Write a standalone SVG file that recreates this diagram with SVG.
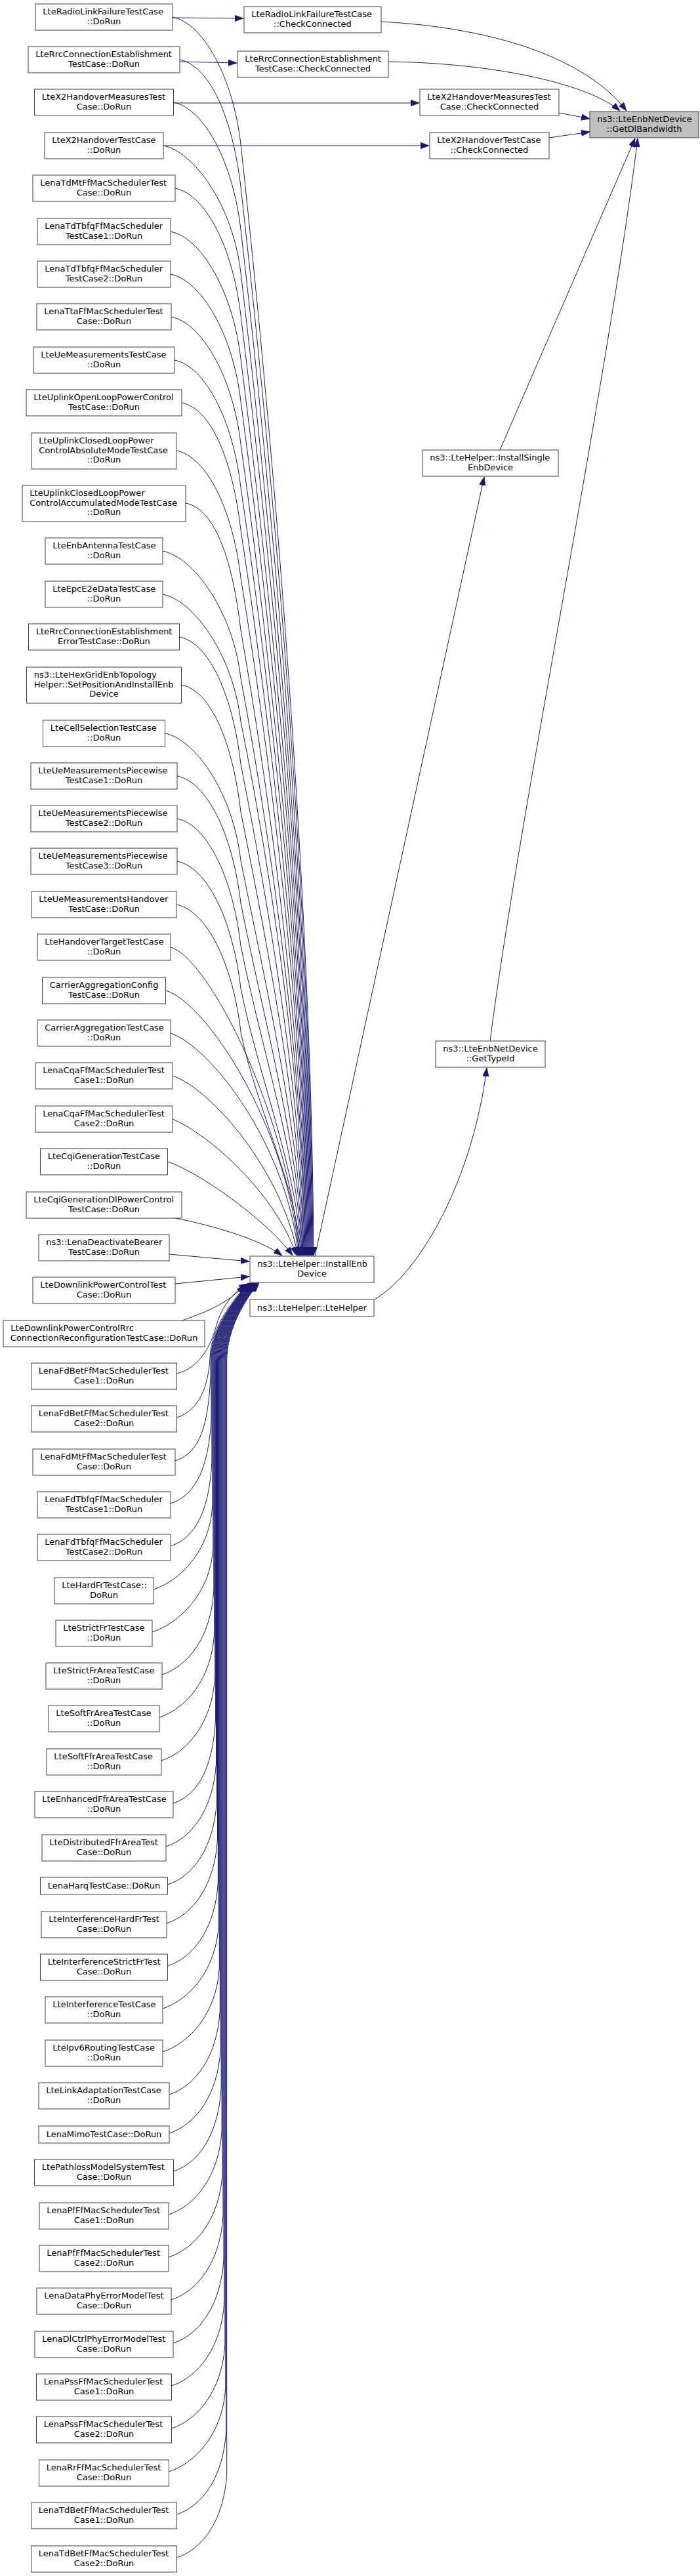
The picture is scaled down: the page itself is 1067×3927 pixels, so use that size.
<svg xmlns="http://www.w3.org/2000/svg" width="1067" height="3927" viewBox="0 0 1067 3927">
<style>
.node rect{fill:#fff;stroke:#404040;stroke-width:1}
.root rect{fill:#bfbfbf}
.node text{font-family:"DejaVu Sans","Liberation Sans",sans-serif;font-size:13px;fill:#000}
.l{text-anchor:start}
.c{text-anchor:middle}
#edges path{fill:none;stroke:#191970;stroke-width:1;marker-end:url(#ah)}
</style>
<defs>
<marker id="ah" markerUnits="userSpaceOnUse" markerWidth="14" markerHeight="11" refX="13" refY="4.7" orient="auto">
<path d="M0,0 L13,4.7 L0,9.4 z" fill="#191970" stroke="#191970" stroke-width="0.8"/>
</marker>
</defs>
<rect x="0" y="0" width="1067" height="3927" fill="#fff"/>
<g id="edges">
<path d="M263,27 L371,28"/>
<path d="M274,94 L361,96"/>
<path d="M264.5,157 L639,157"/>
<path d="M249,222 L654,222"/>
<path d="M581,33 C800,45 910,110 955,169"/>
<path d="M591,94 C760,96 900,130 945,169"/>
<path d="M852,172 L899,181"/>
<path d="M837,210 L899,201"/>
<path d="M762,686 L968,211"/>
<path d="M747,1587 C790,1250 930,560 972,211"/>
<path d="M571,1981 C640,1940 720,1800 742,1628"/>
<path d="M480,1915 L738,727"/>
<path d="M263,26 C309,35 355,116 367,220 C428,779 476,1439 478,1914"/>
<path d="M274,91 C320,100 355,181 367,285 C428,822 475,1457 477,1914"/>
<path d="M264.5,156 C310.5,165 355,246 367,350 C427,866 474,1475 476,1914"/>
<path d="M249,222 C295,231 355,312 367,416 C426,910 473,1494 475,1914"/>
<path d="M267,287 C313,296 355,377 367,481 C426,954 472,1512 474,1914"/>
<path d="M260,353 C306,362 355,443 367,547 C425,998 471,1531 473,1914"/>
<path d="M260,418 C306,427 355,508 367,612 C425,1041 470,1549 472,1914"/>
<path d="M261,483 C307,492 355,573 367,677 C424,1085 469,1567 471,1914"/>
<path d="M266,549 C312,558 355,639 367,743 C424,1129 468,1585 470,1914"/>
<path d="M277,614 C323,623 355,704 367,808 C423,1173 467,1604 469,1914"/>
<path d="M269,687 C315,696 355,777 367,881 C423,1222 466,1624 468,1914"/>
<path d="M283,767 C329,776 355,857 367,961 C422,1275 465,1646 467,1914"/>
<path d="M248,840 C294,849 355,930 367,1034 C421,1324 464,1667 466,1914"/>
<path d="M248,906 C294,915 355,996 367,1100 C421,1368 463,1685 465,1914"/>
<path d="M273.5,971 C319.5,980 355,1061 367,1165 C416,1412 462,1704 464,1914"/>
<path d="M276.5,1044 C322.5,1053 355,1134 367,1238 C412,1461 461,1724 463,1914"/>
<path d="M251.5,1118 C297.5,1127 355,1208 367,1312 C407,1510 460,1745 462,1914"/>
<path d="M270,1183 C316,1192 355,1273 367,1377 C402,1554 459,1763 461,1914"/>
<path d="M270,1248 C316,1257 355,1338 367,1442 C398,1597 458,1781 460,1914"/>
<path d="M270,1313 C316,1322 355,1403 367,1507 C394,1641 457,1799 459,1914"/>
<path d="M269,1379 C315,1388 355,1469 367,1573 C389,1685 456,1818 458,1914"/>
<path d="M260,1444 C318,1460 440,1700 457,1914"/>
<path d="M252.5,1510 C315,1528 440,1720 456,1914"/>
<path d="M260,1575 C320,1595 438,1745 455,1914"/>
<path d="M263,1640 C322,1660 430,1785 454,1914"/>
<path d="M263,1706 C320,1730 420,1820 452,1914"/>
<path d="M255.5,1771 C300,1785 405,1858 446,1914"/>
<path d="M267,1857 C315,1866 395,1888 430,1914"/>
<path d="M258,1912 L380,1923"/>
<path d="M267,1957 L380,1946"/>
<path d="M278,2013 C305,2003 345,1990 373,1959"/>
<path d="M269.5,2094 C305,2085 322,2050 330,2020 C338,1992 355,1970 377.5,1957"/>
<path d="M269.5,2161 C305,2150 318,2110 320,2070 C322,2020 358,1980 378.4,1956"/>
<path d="M267,2227 C307,2214 317,2169 321,2099 L321,2075 C321,2025 359,1980 379,1956"/>
<path d="M260,2292 C300,2279 318,2234 322,2164 L322,2075 C322,2025 359.6,1980 379.6,1956"/>
<path d="M260,2357 C300,2344 318.9,2299 322.9,2229 L322.9,2075 C322.9,2025 360.2,1980 380.2,1956"/>
<path d="M234,2423 C274,2410 319.9,2365 323.9,2295 L323.9,2075 C323.9,2025 360.8,1980 380.8,1956"/>
<path d="M232,2488 C272,2475 320.8,2430 324.8,2360 L324.8,2075 C324.8,2025 361.4,1980 381.4,1956"/>
<path d="M247,2553 C287,2540 321.8,2495 325.8,2425 L325.8,2075 C325.8,2025 362,1980 382,1956"/>
<path d="M243,2618 C283,2605 322.7,2560 326.7,2490 L326.7,2075 C326.7,2025 362.6,1980 382.6,1956"/>
<path d="M246,2684 C286,2671 323.7,2626 327.7,2556 L327.7,2075 C327.7,2025 363.2,1980 383.2,1956"/>
<path d="M264,2749 C304,2736 324.6,2691 328.6,2621 L328.6,2075 C328.6,2025 363.8,1980 383.8,1956"/>
<path d="M253,2815 C293,2802 325.6,2757 329.6,2687 L329.6,2075 C329.6,2025 364.4,1980 384.4,1956"/>
<path d="M255.5,2873 C295.5,2860 326.5,2815 330.5,2745 L330.5,2075 C330.5,2025 365,1980 385,1956"/>
<path d="M254,2932 C294,2919 327.5,2874 331.5,2804 L331.5,2075 C331.5,2025 365.6,1980 385.6,1956"/>
<path d="M255.5,2997 C295.5,2984 328.4,2939 332.4,2869 L332.4,2075 C332.4,2025 366.2,1980 386.2,1956"/>
<path d="M248,3062 C288,3049 329.4,3004 333.4,2934 L333.4,2075 C333.4,2025 366.8,1980 386.8,1956"/>
<path d="M248,3128 C288,3115 330.3,3070 334.3,3000 L334.3,2075 C334.3,2025 367.4,1980 387.4,1956"/>
<path d="M258,3193 C298,3180 331.3,3135 335.3,3065 L335.3,2075 C335.3,2025 368,1980 388,1956"/>
<path d="M258,3252 C298,3239 332.2,3194 336.2,3124 L336.2,2075 C336.2,2025 368.6,1980 388.6,1956"/>
<path d="M264.5,3310 C304.5,3297 333.2,3252 337.2,3182 L337.2,2075 C337.2,2025 369.2,1980 389.2,1956"/>
<path d="M257,3376 C297,3363 334.1,3318 338.1,3248 L338.1,2075 C338.1,2025 369.8,1980 389.8,1956"/>
<path d="M257,3441 C297,3428 335.1,3383 339.1,3313 L339.1,2075 C339.1,2025 370.4,1980 390.4,1956"/>
<path d="M261,3506 C301,3493 336,3448 340,3378 L340,2075 C340,2025 371,1980 391,1956"/>
<path d="M264,3572 C304,3559 337,3514 341,3444 L341,2075 C341,2025 371.6,1980 391.6,1956"/>
<path d="M261.5,3637 C301.5,3624 337.9,3579 341.9,3509 L341.9,2075 C341.9,2025 372.2,1980 392.2,1956"/>
<path d="M261.5,3702 C301.5,3689 338.9,3644 342.9,3574 L342.9,2075 C342.9,2025 372.8,1980 392.8,1956"/>
<path d="M257.5,3768 C297.5,3755 339.8,3710 343.8,3640 L343.8,2075 C343.8,2025 373.4,1980 393.4,1956"/>
<path d="M269.5,3833 C309.5,3820 340.8,3775 344.8,3705 L344.8,2075 C344.8,2025 374,1980 394,1956"/>
<path d="M269.5,3899 C309.5,3886 341.7,3841 345.7,3771 L345.7,2075 C345.7,2025 374.6,1980 394.6,1956"/>
</g>
<g id="nodes">
<g id="root" class="node root"><rect x="899" y="170" width="166" height="40"/><text x="910.3" y="186" class="l">ns3::LteEnbNetDevice</text><text x="982" y="200.7" class="c">::GetDlBandwidth</text></g>
<g id="c1" class="node"><rect x="372" y="10" width="209" height="40"/><text x="383.3" y="26" class="l">LteRadioLinkFailureTestCase</text><text x="476.5" y="40.7" class="c">::CheckConnected</text></g>
<g id="c2" class="node"><rect x="362" y="78" width="230" height="40"/><text x="373.3" y="94" class="l">LteRrcConnectionEstablishment</text><text x="477" y="108.7" class="c">TestCase::CheckConnected</text></g>
<g id="c3" class="node"><rect x="640" y="136" width="212" height="40"/><text x="651.3" y="152" class="l">LteX2HandoverMeasuresTest</text><text x="746" y="166.7" class="c">Case::CheckConnected</text></g>
<g id="c4" class="node"><rect x="655" y="202" width="182" height="40"/><text x="666.3" y="218" class="l">LteX2HandoverTestCase</text><text x="746" y="232.7" class="c">::CheckConnected</text></g>
<g id="isd" class="node"><rect x="644" y="686" width="207" height="40"/><text x="655.3" y="702" class="l">ns3::LteHelper::InstallSingle</text><text x="747.5" y="716.7" class="c">EnbDevice</text></g>
<g id="gti" class="node"><rect x="664" y="1587" width="167" height="40"/><text x="675.3" y="1603" class="l">ns3::LteEnbNetDevice</text><text x="747.5" y="1617.7" class="c">::GetTypeId</text></g>
<g id="ied" class="node"><rect x="381" y="1915" width="189" height="40"/><text x="392.3" y="1931" class="l">ns3::LteHelper::InstallEnb</text><text x="475.5" y="1945.7" class="c">Device</text></g>
<g id="lh" class="node"><rect x="381" y="1981" width="189" height="26"/><text x="475.5" y="1998" class="c">ns3::LteHelper::LteHelper</text></g>

<g id="n1" class="node"><rect x="54" y="6" width="209" height="40"/><text x="65.3" y="22" class="l">LteRadioLinkFailureTestCase</text><text x="158.5" y="36.7" class="c">::DoRun</text></g>
<g id="n2" class="node"><rect x="43" y="71" width="231" height="40"/><text x="54.3" y="87" class="l">LteRrcConnectionEstablishment</text><text x="158.5" y="101.7" class="c">TestCase::DoRun</text></g>
<g id="n3" class="node"><rect x="52.5" y="136" width="212" height="40"/><text x="63.8" y="152" class="l">LteX2HandoverMeasuresTest</text><text x="158.5" y="166.7" class="c">Case::DoRun</text></g>
<g id="n4" class="node"><rect x="68" y="202" width="181" height="40"/><text x="79.3" y="218" class="l">LteX2HandoverTestCase</text><text x="158.5" y="232.7" class="c">::DoRun</text></g>
<g id="n5" class="node"><rect x="50" y="267" width="217" height="40"/><text x="61.3" y="283" class="l">LenaTdMtFfMacSchedulerTest</text><text x="158.5" y="297.7" class="c">Case::DoRun</text></g>
<g id="n6" class="node"><rect x="57" y="333" width="203" height="40"/><text x="68.3" y="349" class="l">LenaTdTbfqFfMacScheduler</text><text x="158.5" y="363.7" class="c">TestCase1::DoRun</text></g>
<g id="n7" class="node"><rect x="57" y="398" width="203" height="40"/><text x="68.3" y="414" class="l">LenaTdTbfqFfMacScheduler</text><text x="158.5" y="428.7" class="c">TestCase2::DoRun</text></g>
<g id="n8" class="node"><rect x="56" y="463" width="205" height="40"/><text x="67.3" y="479" class="l">LenaTtaFfMacSchedulerTest</text><text x="158.5" y="493.7" class="c">Case::DoRun</text></g>
<g id="n9" class="node"><rect x="51" y="529" width="215" height="40"/><text x="62.3" y="545" class="l">LteUeMeasurementsTestCase</text><text x="158.5" y="559.7" class="c">::DoRun</text></g>
<g id="n10" class="node"><rect x="40" y="594" width="237" height="40"/><text x="51.3" y="610" class="l">LteUplinkOpenLoopPowerControl</text><text x="158.5" y="624.7" class="c">TestCase::DoRun</text></g>
<g id="n11" class="node"><rect x="48" y="660" width="221" height="55"/><text x="59.3" y="676" class="l">LteUplinkClosedLoopPower</text><text x="59.3" y="690.7" class="l">ControlAbsoluteModeTestCase</text><text x="158.5" y="705.4" class="c">::DoRun</text></g>
<g id="n12" class="node"><rect x="34" y="740" width="249" height="55"/><text x="45.3" y="756" class="l">LteUplinkClosedLoopPower</text><text x="45.3" y="770.7" class="l">ControlAccumulatedModeTestCase</text><text x="158.5" y="785.4" class="c">::DoRun</text></g>
<g id="n13" class="node"><rect x="69" y="820" width="179" height="40"/><text x="80.3" y="836" class="l">LteEnbAntennaTestCase</text><text x="158.5" y="850.7" class="c">::DoRun</text></g>
<g id="n14" class="node"><rect x="69" y="886" width="179" height="40"/><text x="80.3" y="902" class="l">LteEpcE2eDataTestCase</text><text x="158.5" y="916.7" class="c">::DoRun</text></g>
<g id="n15" class="node"><rect x="43.5" y="951" width="230" height="40"/><text x="54.8" y="967" class="l">LteRrcConnectionEstablishment</text><text x="158.5" y="981.7" class="c">ErrorTestCase::DoRun</text></g>
<g id="n16" class="node"><rect x="40.5" y="1017" width="236" height="55"/><text x="51.8" y="1033" class="l">ns3::LteHexGridEnbTopology</text><text x="51.8" y="1047.7" class="l">Helper::SetPositionAndInstallEnb</text><text x="158.5" y="1062.4" class="c">Device</text></g>
<g id="n17" class="node"><rect x="65.5" y="1098" width="186" height="40"/><text x="76.8" y="1114" class="l">LteCellSelectionTestCase</text><text x="158.5" y="1128.7" class="c">::DoRun</text></g>
<g id="n18" class="node"><rect x="47" y="1163" width="223" height="40"/><text x="58.3" y="1179" class="l">LteUeMeasurementsPiecewise</text><text x="158.5" y="1193.7" class="c">TestCase1::DoRun</text></g>
<g id="n19" class="node"><rect x="47" y="1228" width="223" height="40"/><text x="58.3" y="1244" class="l">LteUeMeasurementsPiecewise</text><text x="158.5" y="1258.7" class="c">TestCase2::DoRun</text></g>
<g id="n20" class="node"><rect x="47" y="1293" width="223" height="40"/><text x="58.3" y="1309" class="l">LteUeMeasurementsPiecewise</text><text x="158.5" y="1323.7" class="c">TestCase3::DoRun</text></g>
<g id="n21" class="node"><rect x="48" y="1359" width="221" height="40"/><text x="59.3" y="1375" class="l">LteUeMeasurementsHandover</text><text x="158.5" y="1389.7" class="c">TestCase::DoRun</text></g>
<g id="n22" class="node"><rect x="57" y="1424" width="203" height="40"/><text x="68.3" y="1440" class="l">LteHandoverTargetTestCase</text><text x="158.5" y="1454.7" class="c">::DoRun</text></g>
<g id="n23" class="node"><rect x="64.5" y="1490" width="188" height="40"/><text x="75.8" y="1506" class="l">CarrierAggregationConfig</text><text x="158.5" y="1520.7" class="c">TestCase::DoRun</text></g>
<g id="n24" class="node"><rect x="57" y="1555" width="203" height="40"/><text x="68.3" y="1571" class="l">CarrierAggregationTestCase</text><text x="158.5" y="1585.7" class="c">::DoRun</text></g>
<g id="n25" class="node"><rect x="54" y="1620" width="209" height="40"/><text x="65.3" y="1636" class="l">LenaCqaFfMacSchedulerTest</text><text x="158.5" y="1650.7" class="c">Case1::DoRun</text></g>
<g id="n26" class="node"><rect x="54" y="1686" width="209" height="40"/><text x="65.3" y="1702" class="l">LenaCqaFfMacSchedulerTest</text><text x="158.5" y="1716.7" class="c">Case2::DoRun</text></g>
<g id="n27" class="node"><rect x="61.5" y="1751" width="194" height="40"/><text x="72.8" y="1767" class="l">LteCqiGenerationTestCase</text><text x="158.5" y="1781.7" class="c">::DoRun</text></g>
<g id="n28" class="node"><rect x="40" y="1817" width="237" height="40"/><text x="51.3" y="1833" class="l">LteCqiGenerationDlPowerControl</text><text x="158.5" y="1847.7" class="c">TestCase::DoRun</text></g>
<g id="n29" class="node"><rect x="59" y="1882" width="199" height="40"/><text x="70.3" y="1898" class="l">ns3::LenaDeactivateBearer</text><text x="158.5" y="1912.7" class="c">TestCase::DoRun</text></g>
<g id="n30" class="node"><rect x="50" y="1947" width="217" height="40"/><text x="61.3" y="1963" class="l">LteDownlinkPowerControlTest</text><text x="158.5" y="1977.7" class="c">Case::DoRun</text></g>
<g id="n31" class="node"><rect x="5" y="2013" width="307" height="40"/><text x="16.3" y="2029" class="l">LteDownlinkPowerControlRrc</text><text x="158.5" y="2043.7" class="c">ConnectionReconfigurationTestCase::DoRun</text></g>
<g id="n32" class="node"><rect x="47.5" y="2078" width="222" height="40"/><text x="58.8" y="2094" class="l">LenaFdBetFfMacSchedulerTest</text><text x="158.5" y="2108.7" class="c">Case1::DoRun</text></g>
<g id="n33" class="node"><rect x="47.5" y="2143" width="222" height="40"/><text x="58.8" y="2159" class="l">LenaFdBetFfMacSchedulerTest</text><text x="158.5" y="2173.7" class="c">Case2::DoRun</text></g>
<g id="n34" class="node"><rect x="50" y="2209" width="217" height="40"/><text x="61.3" y="2225" class="l">LenaFdMtFfMacSchedulerTest</text><text x="158.5" y="2239.7" class="c">Case::DoRun</text></g>
<g id="n35" class="node"><rect x="57" y="2274" width="203" height="40"/><text x="68.3" y="2290" class="l">LenaFdTbfqFfMacScheduler</text><text x="158.5" y="2304.7" class="c">TestCase1::DoRun</text></g>
<g id="n36" class="node"><rect x="57" y="2339" width="203" height="40"/><text x="68.3" y="2355" class="l">LenaFdTbfqFfMacScheduler</text><text x="158.5" y="2369.7" class="c">TestCase2::DoRun</text></g>
<g id="n37" class="node"><rect x="83" y="2405" width="151" height="40"/><text x="94.3" y="2421" class="l">LteHardFrTestCase::</text><text x="158.5" y="2435.7" class="c">DoRun</text></g>
<g id="n38" class="node"><rect x="85" y="2470" width="147" height="40"/><text x="96.3" y="2486" class="l">LteStrictFrTestCase</text><text x="158.5" y="2500.7" class="c">::DoRun</text></g>
<g id="n39" class="node"><rect x="70" y="2535" width="177" height="40"/><text x="81.3" y="2551" class="l">LteStrictFrAreaTestCase</text><text x="158.5" y="2565.7" class="c">::DoRun</text></g>
<g id="n40" class="node"><rect x="74" y="2600" width="169" height="40"/><text x="85.3" y="2616" class="l">LteSoftFrAreaTestCase</text><text x="158.5" y="2630.7" class="c">::DoRun</text></g>
<g id="n41" class="node"><rect x="71" y="2666" width="175" height="40"/><text x="82.3" y="2682" class="l">LteSoftFfrAreaTestCase</text><text x="158.5" y="2696.7" class="c">::DoRun</text></g>
<g id="n42" class="node"><rect x="53" y="2731" width="211" height="40"/><text x="64.3" y="2747" class="l">LteEnhancedFfrAreaTestCase</text><text x="158.5" y="2761.7" class="c">::DoRun</text></g>
<g id="n43" class="node"><rect x="64" y="2797" width="189" height="40"/><text x="75.3" y="2813" class="l">LteDistributedFfrAreaTest</text><text x="158.5" y="2827.7" class="c">Case::DoRun</text></g>
<g id="n44" class="node"><rect x="61.5" y="2862" width="194" height="26"/><text x="158.5" y="2879" class="c">LenaHarqTestCase::DoRun</text></g>
<g id="n45" class="node"><rect x="63" y="2914" width="191" height="40"/><text x="74.3" y="2930" class="l">LteInterferenceHardFrTest</text><text x="158.5" y="2944.7" class="c">Case::DoRun</text></g>
<g id="n46" class="node"><rect x="61.5" y="2979" width="194" height="40"/><text x="72.8" y="2995" class="l">LteInterferenceStrictFrTest</text><text x="158.5" y="3009.7" class="c">Case::DoRun</text></g>
<g id="n47" class="node"><rect x="69" y="3044" width="179" height="40"/><text x="80.3" y="3060" class="l">LteInterferenceTestCase</text><text x="158.5" y="3074.7" class="c">::DoRun</text></g>
<g id="n48" class="node"><rect x="69" y="3110" width="179" height="40"/><text x="80.3" y="3126" class="l">LteIpv6RoutingTestCase</text><text x="158.5" y="3140.7" class="c">::DoRun</text></g>
<g id="n49" class="node"><rect x="59" y="3175" width="199" height="40"/><text x="70.3" y="3191" class="l">LteLinkAdaptationTestCase</text><text x="158.5" y="3205.7" class="c">::DoRun</text></g>
<g id="n50" class="node"><rect x="59" y="3241" width="199" height="26"/><text x="158.5" y="3258" class="c">LenaMimoTestCase::DoRun</text></g>
<g id="n51" class="node"><rect x="52.5" y="3292" width="212" height="40"/><text x="63.8" y="3308" class="l">LtePathlossModelSystemTest</text><text x="158.5" y="3322.7" class="c">Case::DoRun</text></g>
<g id="n52" class="node"><rect x="60" y="3358" width="197" height="40"/><text x="71.3" y="3374" class="l">LenaPfFfMacSchedulerTest</text><text x="158.5" y="3388.7" class="c">Case1::DoRun</text></g>
<g id="n53" class="node"><rect x="60" y="3423" width="197" height="40"/><text x="71.3" y="3439" class="l">LenaPfFfMacSchedulerTest</text><text x="158.5" y="3453.7" class="c">Case2::DoRun</text></g>
<g id="n54" class="node"><rect x="56" y="3488" width="205" height="40"/><text x="67.3" y="3504" class="l">LenaDataPhyErrorModelTest</text><text x="158.5" y="3518.7" class="c">Case::DoRun</text></g>
<g id="n55" class="node"><rect x="53" y="3554" width="211" height="40"/><text x="64.3" y="3570" class="l">LenaDlCtrlPhyErrorModelTest</text><text x="158.5" y="3584.7" class="c">Case::DoRun</text></g>
<g id="n56" class="node"><rect x="55.5" y="3619" width="206" height="40"/><text x="66.8" y="3635" class="l">LenaPssFfMacSchedulerTest</text><text x="158.5" y="3649.7" class="c">Case1::DoRun</text></g>
<g id="n57" class="node"><rect x="55.5" y="3684" width="206" height="40"/><text x="66.8" y="3700" class="l">LenaPssFfMacSchedulerTest</text><text x="158.5" y="3714.7" class="c">Case2::DoRun</text></g>
<g id="n58" class="node"><rect x="59.5" y="3750" width="198" height="40"/><text x="70.8" y="3766" class="l">LenaRrFfMacSchedulerTest</text><text x="158.5" y="3780.7" class="c">Case::DoRun</text></g>
<g id="n59" class="node"><rect x="47.5" y="3815" width="222" height="40"/><text x="58.8" y="3831" class="l">LenaTdBetFfMacSchedulerTest</text><text x="158.5" y="3845.7" class="c">Case1::DoRun</text></g>
<g id="n60" class="node"><rect x="47.5" y="3881" width="222" height="40"/><text x="58.8" y="3897" class="l">LenaTdBetFfMacSchedulerTest</text><text x="158.5" y="3911.7" class="c">Case2::DoRun</text></g>
</g>
</svg>
